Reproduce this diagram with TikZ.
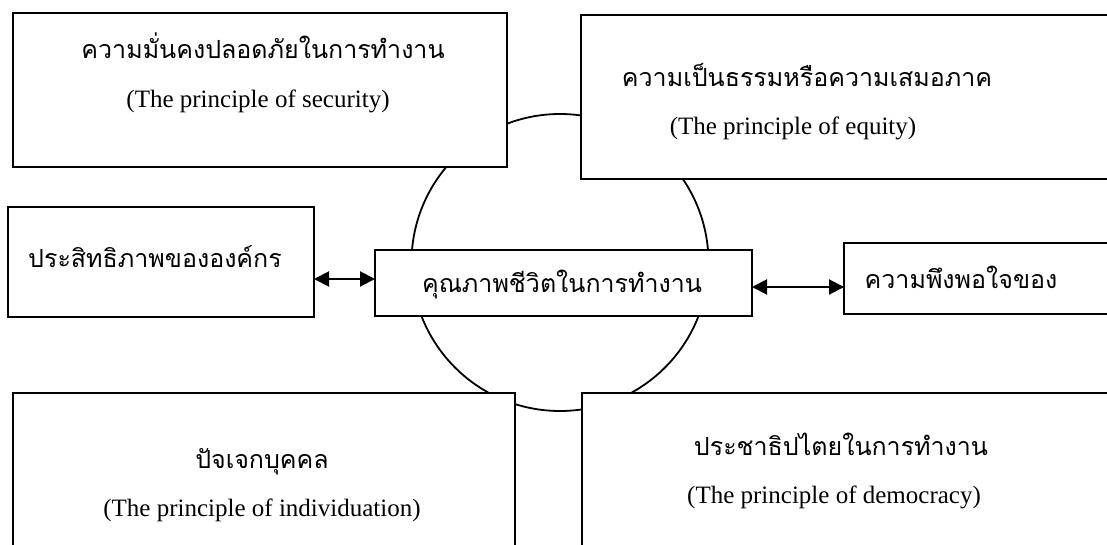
\documentclass[tikz,border=0pt]{standalone}
\usepackage{fontspec}
\setmainfont{Liberation Serif}
\newfontfamily\thaifont[Script=Thai]{Loma}
\usetikzlibrary{arrows.meta}
\begin{document}
\begin{tikzpicture}[x=1pt,y=-1pt,
  box/.style={draw, line width=2.2pt, fill=white, inner sep=0pt, outer sep=0pt, anchor=north west},
  th/.style={font=\thaifont\fontsize{25}{29}\selectfont, inner sep=0pt},
  en/.style={font=\fontsize{25}{29}\selectfont, inner sep=0pt},
  dbl/.style={line width=2pt, {Triangle[length=15pt,width=15pt]}-{Triangle[length=15pt,width=15pt]}}]
\clip (0,0) rectangle (1107,545);
\fill[white] (0,0) rectangle (1107,545);
\draw[line width=1.8pt] (560,262.5) circle (148.5);
% boxes
\node[box, minimum width=494pt, minimum height=154pt] (sec) at (13,13) {};
\node[box, minimum width=560pt, minimum height=164pt] (equ) at (581,15) {};
\node[box, minimum width=306pt, minimum height=110pt] (org) at (8,207) {};
\node[box, minimum width=377pt, minimum height=66pt] (qwl) at (375,250) {};
\node[box, minimum width=300pt, minimum height=71pt] (sat) at (844,243) {};
\node[box, minimum width=502pt, minimum height=200pt] (ind) at (13,393) {};
\node[box, minimum width=560pt, minimum height=200pt] (dem) at (582,393) {};
% texts
\node[th] (secT) at (263,46) {ความมั่นคงปลอดภัยในการทำงาน};
\node[en] (secE) at (258,101) {(The principle of security)};
\node[th] (equT) at (807,75) {ความเป็นธรรมหรือความเสมอภาค};
\node[en] (equE) at (793,128) {(The principle of equity)};
\node[th] (orgT) at (155,257) {ประสิทธิภาพขององค์กร};
\node[th] (qwlT) at (562,285) {คุณภาพชีวิตในการทำงาน};
\node[th] (satT) at (961,277) {ความพึงพอใจของ};
\node[th] (indT) at (262,462) {ปัจเจกบุคคล};
\node[en] (indE) at (262,510) {(The principle of individuation)};
\node[th] (demT) at (841,444) {ประชาธิปไตยในการทำงาน};
\node[en] (demE) at (834,497) {(The principle of democracy)};
% arrows
\draw[dbl] (org.east |- 0,279) -- (qwl.west |- 0,279);
\draw[dbl] (qwl.east |- 0,287) -- (sat.west |- 0,287);
\end{tikzpicture}
\end{document}
